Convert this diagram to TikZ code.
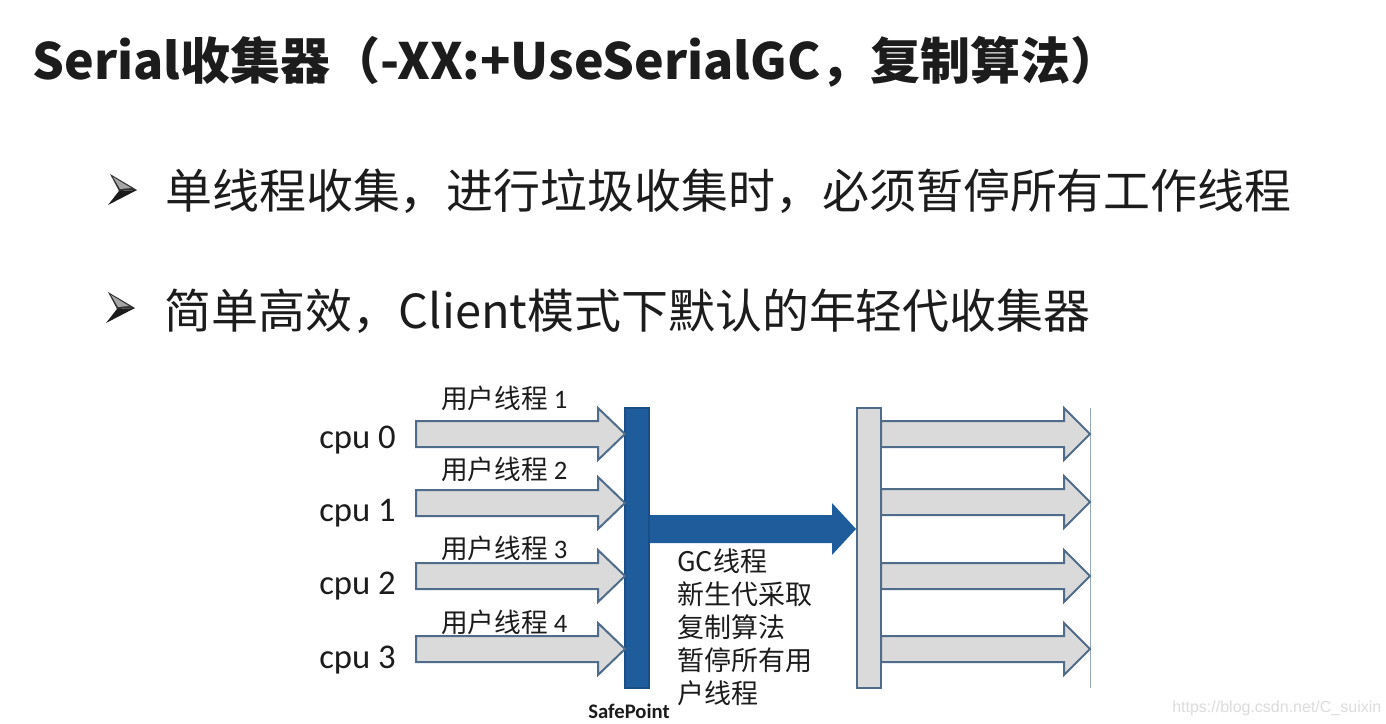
\documentclass[tikz,border=0pt]{standalone}
\usepackage{fontspec}
\setmainfont{Noto Sans CJK SC}
\newfontfamily\cjk{Noto Sans CJK SC}
\newfontfamily\carl{Carlito}
\newfontfamily\wmfont{Liberation Sans}
\definecolor{sblue}{HTML}{1F5C9C}
\definecolor{sblueline}{HTML}{1A4E86}
\definecolor{gfill}{HTML}{DADADA}
\definecolor{gline}{HTML}{4F6C8A}
\definecolor{txt}{HTML}{1C1C1C}
\definecolor{wmgray}{HTML}{DCDCDC}
\newcommand\blockarr[5][]{% [style] start x, head base x, tip x, centre y
  \filldraw[#1] (#2,#5-13) -- (#3,#5-13) -- (#3,#5-26) -- (#4,#5) -- (#3,#5+26) -- (#3,#5+13) -- (#2,#5+13) -- cycle;}
\newcommand\bulletmark[2]{% x,y of top-left point
  \fill[txt!90] (#1,#2) -- (#1+27,#2+16) -- (#1+9,#2+17) -- cycle;
  \fill[txt] (#1+9,#2+17) -- (#1+27,#2+16) -- (#1-2,#2+31) -- cycle;
  \fill[gray!70] (#1+3,#2+3) -- (#1+21,#2+14) -- (#1+10,#2+15) -- cycle;}
\begin{document}
\begin{tikzpicture}[x=0.75pt,y=-0.75pt,
  every node/.style={inner sep=0pt, text=txt},
  titlestyle/.style={font=\fontsize{37.5}{40}\selectfont\bfseries},
  bulletstyle/.style={font=\fontsize{35.2}{40}\selectfont},
  cpustyle/.style={font=\carl\fontsize{26}{28}\selectfont},
  threadstyle/.style={font=\fontsize{20}{22}\selectfont},
  gcstyle/.style={font=\fontsize{20.25}{24.75}\selectfont, align=left},
  grayarrow/.style={fill=gfill, draw=gline, line width=1.5pt, line join=miter},
  bar/.style={minimum width=18pt, minimum height=210pt, line width=1.5pt}
]
\useasboundingbox (0,0) rectangle (1386,724);
\fill[white] (0,0) rectangle (1386,724);

% title and bullets
\node[titlestyle, anchor=base west] (title) at (32,80) {Serial收集器（-XX:+UseSerialGC，复制算法）};
\bulletmark{110}{174}
\node[bulletstyle, anchor=base west] (b1) at (165,208) {单线程收集，进行垃圾收集时，必须暂停所有工作线程};
\bulletmark{108}{292}
\node[bulletstyle, anchor=base west] (b2) at (164,328) {简单高效，Client模式下默认的年轻代收集器};

% bars
\node[bar, fill=sblue, draw=sblueline] (sp) at (637,548) {};
\node[bar, fill=gfill, draw=gline] (rb) at (869,548) {};
\draw[gline!60, line width=0.75pt] (1090,408) coordinate (endtop) -- (1090,688) coordinate (endbot);

% cpu labels
\node[cpustyle, anchor=base west] (cpu0) at (319,448) {cpu 0};
\node[cpustyle, anchor=base west] (cpu1) at (319,521) {cpu 1};
\node[cpustyle, anchor=base west] (cpu2) at (319,594) {cpu 2};
\node[cpustyle, anchor=base west] (cpu3) at (319,668) {cpu 3};

% thread labels
\node[threadstyle, anchor=base west] (t1) at (441,408) {用户线程 {\carl 1}};
\node[threadstyle, anchor=base west] (t2) at (441,479) {用户线程 {\carl 2}};
\node[threadstyle, anchor=base west] (t3) at (441,558) {用户线程 {\carl 3}};
\node[threadstyle, anchor=base west] (t4) at (441,632) {用户线程 {\carl 4}};

% user thread arrows into the safepoint
\blockarr[grayarrow]{416}{598}{625}{434}
\blockarr[grayarrow]{416}{598}{625}{503}
\blockarr[grayarrow]{416}{598}{625}{576}
\blockarr[grayarrow]{416}{598}{625}{649}

% GC thread arrow
\fill[sblue] (sp.east |- 0,515) -- (832,515) -- (832,503) -- (rb.west |- 0,529) -- (832,555) -- (832,543) -- (sp.east |- 0,543) -- cycle;

% resumed user threads
\blockarr[grayarrow]{881}{1064}{1090}{434}
\blockarr[grayarrow]{881}{1064}{1090}{502}
\blockarr[grayarrow]{881}{1064}{1090}{576}
\blockarr[grayarrow]{881}{1064}{1090}{649}

% GC text
\node[gcstyle, anchor=north west] (gc) at (677,548) {GC线程\\新生代采取\\复制算法\\暂停所有用\\户线程};

\node[font=\carl\bfseries\fontsize{15.5}{17}\selectfont, anchor=base] (safepoint) at (629,718) {SafePoint};

\node[font=\wmfont\fontsize{12}{14}\selectfont, text=wmgray, anchor=base west] (wm) at (1172,712) {https://blog.csdn.net/C\_suixin};
\end{tikzpicture}
\end{document}
